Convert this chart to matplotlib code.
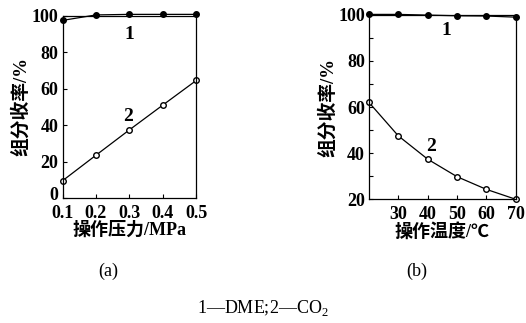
import matplotlib
matplotlib.use('Agg')
import matplotlib.pyplot as plt
import matplotlib.transforms as mtransforms
from matplotlib.ticker import MultipleLocator

plt.rcParams['font.family'] = ['Liberation Serif', 'Noto Sans CJK SC']
plt.rcParams['mathtext.fontset'] = 'custom'
plt.rcParams['mathtext.rm'] = 'Liberation Serif'

# (a) operating pressure
pressure = [0.1, 0.2, 0.3, 0.4, 0.5]
dme_a = [97.5, 100.5, 100.8, 100.8, 100.8]
co2_a = [9.5, 23.5, 37.4, 51.0, 64.5]

# (b) operating temperature
temp = [20, 30, 40, 50, 60, 70]
dme_b = [100.2, 100.2, 99.9, 99.6, 99.5, 99.0]
co2_b = [62.0, 47.5, 37.4, 29.8, 24.3, 20.0]

ylabel = '组分收率/%'

fig = plt.figure(figsize=(5.26, 3.23), dpi=100)
ax1 = fig.add_axes([0.119, 0.387, 0.254, 0.564])
ax2 = fig.add_axes([0.7015, 0.383, 0.279, 0.571])

# panel a
ax1.plot(pressure, dme_a, '-o', color='black', lw=0.9, ms=4, mfc='black', clip_on=False)
ax1.plot(pressure, co2_a, '-o', color='black', lw=0.9, ms=4, mfc='white', clip_on=False)
ax1.set_xlim(0.1, 0.5)
ax1.set_ylim(0, 100)
ax1.set_xticks(pressure)
ax1.set_xticklabels(['0.1', '0.2', '0.3', '0.4', '0.5'])
ax1.set_yticks([0, 20, 40, 60, 80, 100])
ax1.set_xlabel('操作压力/MPa', fontsize=13, labelpad=0, fontweight='bold')
ax1.set_ylabel(ylabel, fontsize=13.5, labelpad=1, fontweight='bold')
ax1.text(0.3, 90, '1', fontsize=14, ha='center', va='center', fontweight='bold')
ax1.text(0.295, 45, '2', fontsize=14, ha='center', va='center', fontweight='bold')

# panel b
ax2.plot(temp, dme_b, '-o', color='black', lw=0.9, ms=4, mfc='black', clip_on=False)
ax2.plot(temp, co2_b, '-o', color='black', lw=0.9, ms=4, mfc='white', clip_on=False)
ax2.set_xlim(20, 70)
ax2.set_ylim(20, 100)
ax2.set_xticks([30, 40, 50, 60, 70])
ax2.set_yticks([20, 40, 60, 80, 100])
ax2.yaxis.set_minor_locator(MultipleLocator(10))
ax2.tick_params(which='minor', direction='in', length=3, width=0.8)
ax2.set_xlabel('操作温度/℃', fontsize=13, labelpad=0, fontweight='bold')
ax2.set_ylabel(ylabel, fontsize=13.5, labelpad=1, fontweight='bold')
ax2.text(46.3, 93, '1', fontsize=14, ha='center', va='center', fontweight='bold')
ax2.text(41.1, 42.8, '2', fontsize=14, ha='center', va='center', fontweight='bold')

for ax in (ax1, ax2):
    ax.tick_params(direction='in', length=3, width=0.8, labelsize=13, pad=3)
    ax.tick_params(axis='x', pad=5)
    plt.setp(ax.get_xticklabels() + ax.get_yticklabels(), fontweight='bold')
    for s in ax.spines.values():
        s.set_linewidth(0.9)

# lift the "0" label a little, as in the source figure
zero = ax1.get_yticklabels()[0]
zero.set_transform(zero.get_transform() + mtransforms.ScaledTranslation(0, 4 / 100, fig.dpi_scale_trans))

fig.text(108 / 526, 1 - 271 / 323, '(a)', fontsize=13, ha='center', va='center')
fig.text(417 / 526, 1 - 271 / 323, '(b)', fontsize=13, ha='center', va='center')
fig.text(263 / 526, 1 - 308 / 323, '1—DME;2—CO$_2$', fontsize=13, ha='center', va='center')

fig.savefig('out.png', dpi=100)
